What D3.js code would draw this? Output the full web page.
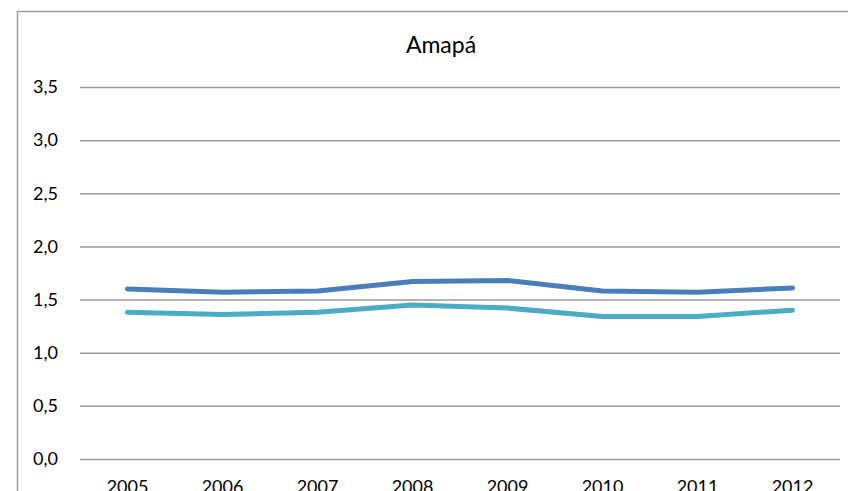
<!DOCTYPE html>
<html>
<head>
<meta charset="utf-8">
<script src="https://cdn.jsdelivr.net/npm/d3@7"></script>
<style>
  body { margin: 0; background: #fff; }
  svg { display: block; font-family: Lato, "Open Sans", sans-serif; }
</style>
</head>
<body>
<div id="chart"></div>
<script>
var years = ['2005', '2006', '2007', '2008', '2009', '2010', '2011', '2012'];
var serieA = [1.60, 1.57, 1.58, 1.67, 1.68, 1.58, 1.57, 1.61];
var serieB = [1.38, 1.36, 1.38, 1.45, 1.42, 1.34, 1.34, 1.40];
var yTicks = [0, 0.5, 1.0, 1.5, 2.0, 2.5, 3.0, 3.5];
var title = 'Amapá';

var width = 848, height = 491;
var plot = {left: 80, right: 840, top: 87, bottom: 459};

var svg = d3.select('#chart').append('svg')
    .attr('width', width)
    .attr('height', height);

// chart area frame (right and bottom edges run off the picture)
svg.append('rect')
    .attr('x', 17.5).attr('y', 11.5)
    .attr('width', 1000).attr('height', 1000)
    .attr('fill', 'none')
    .attr('stroke', '#a0a0a0')
    .attr('stroke-width', 1.5);

var x = d3.scaleBand().domain(years).range([plot.left, plot.right]);
var y = d3.scaleLinear().domain([0, 3.5]).range([plot.bottom, plot.top]);

var fmt = function(v){ return d3.format('.1f')(v).replace('.', ','); };

// gridlines + y labels
var yAxis = svg.append('g')
    .attr('transform', 'translate(' + plot.left + ',0)')
    .call(d3.axisLeft(y).tickValues(yTicks).tickFormat(fmt)
        .tickSize(-(plot.right - plot.left)).tickPadding(22));
yAxis.select('.domain').remove();
yAxis.selectAll('.tick line')
    .attr('stroke', '#9a9a9a')
    .attr('stroke-width', 1.5);
yAxis.selectAll('.tick text')
    .attr('font-size', 18)
    .attr('font-family', 'Lato, sans-serif')
    .attr('fill', '#000');

// x labels (cut by the bottom edge, as in the source picture)
var xAxis = svg.append('g')
    .attr('transform', 'translate(0,' + plot.bottom + ')')
    .call(d3.axisBottom(x).tickSize(0).tickPadding(21));
xAxis.select('.domain').remove();
xAxis.selectAll('.tick text')
    .attr('font-size', 18)
    .attr('font-family', 'Lato, sans-serif')
    .attr('fill', '#000');

var line = d3.line()
    .x(function(d, i){ return x(years[i]) + x.bandwidth() / 2; })
    .y(function(d){ return y(d); });

[[serieB, '#4bacc6'], [serieA, '#4a7ebb']].forEach(function(s){
    svg.append('path')
        .datum(s[0])
        .attr('d', line)
        .attr('fill', 'none')
        .attr('stroke', s[1])
        .attr('stroke-width', 5)
        .attr('stroke-linecap', 'round')
        .attr('stroke-linejoin', 'round');
});

svg.append('text')
    .attr('x', 441).attr('y', 53)
    .attr('text-anchor', 'middle')
    .attr('font-size', 23)
    .attr('fill', '#000')
    .text(title);
</script>
</body>
</html>
